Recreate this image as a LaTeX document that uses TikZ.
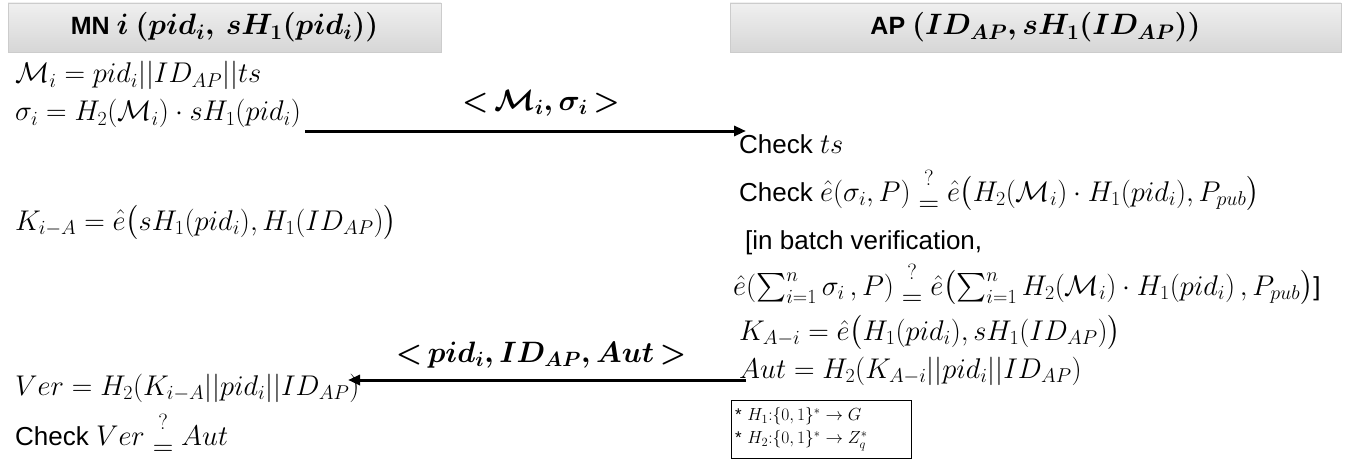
\RequirePackage{fix-cm}
\documentclass[tikz,border=0pt]{standalone}
\usepackage{amsmath,amssymb}
\usepackage[no-math]{fontspec}
\setmainfont{Liberation Sans}
\usetikzlibrary{arrows.meta}
% maths a little larger than the sans text around it
\DeclareMathSizes{26}{28.5}{20}{15}
\DeclareMathSizes{25}{29.5}{21}{15}
\DeclareMathSizes{17}{17.5}{12.5}{9}
% "?=" test relation: question mark on top, bar pair dropped below the baseline
\newcommand{\qmark}{\raisebox{0.05em}{\fontsize{22}{22}\selectfont$?$}}
\newcommand{\qeq}{\mathrel{\raisebox{-0.42em}{$\overset{\qmark}{\rule{0pt}{0.75em}\mathord{=}}$}}}
\newcommand{\msgtxt}[1]{{\boldmath$\mathord{<}\,#1\,\mathord{>}$}}
\tikzset{
  hdr/.style={draw=gray!40, top color=gray!12, bottom color=gray!32,
    minimum height=49pt, inner sep=0pt, font=\fontsize{25}{29}\selectfont\bfseries},
  txt/.style={anchor=base west, inner sep=0pt, font=\fontsize{26}{30}\selectfont},
  msg/.style={line width=3pt, -{Triangle[length=12pt,width=10pt]}},
  lbl/.style={inner sep=0pt, font=\fontsize{29.5}{34}\selectfont},
  note/.style={draw, thin, anchor=north west, inner sep=0pt, align=left,
    minimum width=180pt, minimum height=58pt, text width=172pt,
    font=\fontsize{17}{23}\selectfont},
}
\begin{document}
\begin{tikzpicture}[x=1pt,y=-1pt]
\useasboundingbox (0,0) rectangle (1347,460);

% party headers
\node[hdr, minimum width=433pt] (mn) at (224.5,27.5)
  {MN {\boldmath$i$ $(pid_i,\, sH_1(pid_i))$}};
\node[hdr, minimum width=611pt] (ap) at (1035.5,27.5)
  {AP {\boldmath$(ID_{AP}, sH_1(ID_{AP}))$}};

% mobile node side
\node[txt] (m1) at (15,83) {$\mathcal{M}_i = pid_i||ID_{AP}||ts$};
\node[txt] (m2) at (15,121) {$\sigma_i = H_2(\mathcal{M}_i)\cdot sH_1(pid_i)$};
\node[txt] (m3) at (15,230) {$K_{i-A} = \hat{e}\bigl(sH_1(pid_i), H_1(ID_{AP})\bigr)$};
\node[txt] (m4) at (15,395) {$Ver = H_2(K_{i-A}||pid_i||ID_{AP})$};
\node[txt] (m5) at (15,445) {Check $Ver \qeq Aut$};

% access point side
\node[txt] (a1) at (739,153) {Check $ts$};
\node[txt] (a2) at (739,201) {Check $\hat{e}(\sigma_i,P) \qeq \hat{e}\bigl(H_2(\mathcal{M}_i)\cdot H_1(pid_i), P_{pub}\bigr)$};
\node[txt] (a3) at (745,249) {[in batch verification,};
\node[txt] (a4) at (733,295) {$\hat{e}(\textstyle\sum_{i=1}^{n}\sigma_i\,, P) \qeq \hat{e}\bigl(\textstyle\sum_{i=1}^{n} H_2(\mathcal{M}_i)\cdot H_1(pid_i)\,, P_{pub}\bigr)$]};
\node[txt] (a5) at (739,340) {$K_{A-i} = \hat{e}\bigl(H_1(pid_i), sH_1(ID_{AP})\bigr)$};
\node[txt] (a6) at (739,378) {$Aut = H_2(K_{A-i}||pid_i||ID_{AP})$};
\node[note] (hash) at (731,400)
  {* $H_1{:}\{0,1\}^{*}\rightarrow G$\\\relax * $H_2{:}\{0,1\}^{*}\rightarrow Z_q^{*}$};

% messages
\coordinate (s1) at (305,131);
\coordinate (e1) at (746,131);
\coordinate (s2) at (746,380);
\coordinate (e2) at (348,380);
\draw[msg] (s1) -- (e1);
\draw[msg] (s2) -- (e2);
\node[lbl] (l1) at (541,103) {\msgtxt{\mathcal{M}_i, \sigma_i}};
\node[lbl] (l2) at (541,355) {\msgtxt{pid_i, ID_{AP}, Aut}};
\end{tikzpicture}
\end{document}
